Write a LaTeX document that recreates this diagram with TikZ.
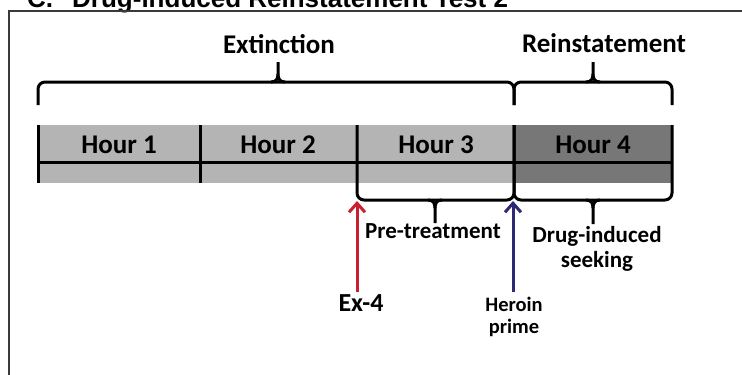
\documentclass[tikz,border=0pt]{standalone}
\usepackage{fontspec}
\setmainfont{Carlito}
\newfontfamily\titlefont{Liberation Sans}
\usetikzlibrary{arrows.meta}
\definecolor{barlight}{HTML}{B4B4B4}
\definecolor{bardark}{HTML}{777777}
\definecolor{exred}{HTML}{C8202F}
\definecolor{heroblue}{HTML}{2B2A72}
\definecolor{framegrey}{HTML}{3A3A3A}
\tikzset{
  ln/.style={line width=3pt, black},
  framel/.style={line width=2pt, framegrey},
  lbl/.style={inner sep=0pt, anchor=base, font=\bfseries\fontsize{27}{30}\selectfont},
  sublbl/.style={inner sep=0pt, anchor=base, align=center, font=\bfseries\fontsize{23}{25}\selectfont},
  arr/.style={line width=3pt, -{Straight Barb[length=9pt,width=16pt,line width=3pt]}},
}
\begin{document}
\begin{tikzpicture}[x=1pt,y=-1pt]
\useasboundingbox (0,0) rectangle (742,375);
\begin{scope}
\clip (0,0) rectangle (742,375);
% title (cut off at top)
\node[inner sep=0pt, anchor=base west, font=\titlefont\bfseries\fontsize{26}{30}\selectfont] (ttlc) at (27,7) {C.};
\node[inner sep=0pt, anchor=base west, font=\titlefont\bfseries\fontsize{26}{30}\selectfont] (ttl) at (72,7) {Drug-induced Reinstatement Test 2};
% frame
\draw[framel] (9,400) -- (9,11) -- (760,11);
% bar
\fill[barlight] (38,125) rectangle (514,183);
\fill[bardark] (514,125) rectangle (672,183);
\draw[ln] (38,162) -- (672,162);
\draw[ln] (38,125) -- (38,183);
\draw[ln] (200,125) -- (200,183);
% lower braces
\draw[ln, rounded corners=7pt] (357,125) -- (357,200) -- (514,200) -- (514,125);
\draw[ln, rounded corners=7pt] (514,125) -- (514,200) -- (672,200) -- (672,125);
\draw[ln] (428,200) .. controls (433,200) and (435,203) .. (435,208) -- (435,223);
\draw[ln] (442,200) .. controls (437,200) and (435,203) .. (435,208);
\draw[ln] (586,200) .. controls (591,200) and (593,203) .. (593,208) -- (593,224);
\draw[ln] (600,200) .. controls (595,200) and (593,203) .. (593,208);
% upper braces
\draw[ln, rounded corners=7pt] (38,105) -- (38,82) -- (514,82) -- (514,105);
\draw[ln, rounded corners=7pt] (514,105) -- (514,82) -- (672,82) -- (672,105);
\draw[ln] (271,82) .. controls (276,82) and (278,79) .. (278,74) -- (278,62);
\draw[ln] (285,82) .. controls (280,82) and (278,79) .. (278,74);
\draw[ln] (586,82) .. controls (591,82) and (593,79) .. (593,74) -- (593,62);
\draw[ln] (600,82) .. controls (595,82) and (593,79) .. (593,74);
% labels
\node[lbl] (ext) at (279,53) {Extinction};
\node[lbl] (rein) at (604,52) {Reinstatement};
\node[lbl] (h1) at (119,153) {Hour 1};
\node[lbl] (h2) at (278,153) {Hour 2};
\node[lbl] (h3) at (436,153) {Hour 3};
\node[lbl] (h4) at (593,153) {Hour 4};
\node[sublbl] (pre) at (433,238) {Pre-treatment};
\node[sublbl] (drug) at (597,267) {Drug-induced\\seeking};
\node[inner sep=0pt, anchor=base, font=\bfseries\fontsize{26}{30}\selectfont] (ex4) at (361,311) {Ex-4};
\node[inner sep=0pt, anchor=base, align=center, font=\bfseries\fontsize{20.5}{22}\selectfont] (hero) at (514,333) {Heroin\\prime};
% arrows
\coordinate (redtail) at (357,292);
\coordinate (redtip) at (357,201);
\coordinate (bluetail) at (513,292);
\coordinate (bluetip) at (513,201);
\draw[arr, exred] (redtail) -- (redtip);
\draw[arr, heroblue] (bluetail) -- (bluetip);
\end{scope}
\end{tikzpicture}
\end{document}
